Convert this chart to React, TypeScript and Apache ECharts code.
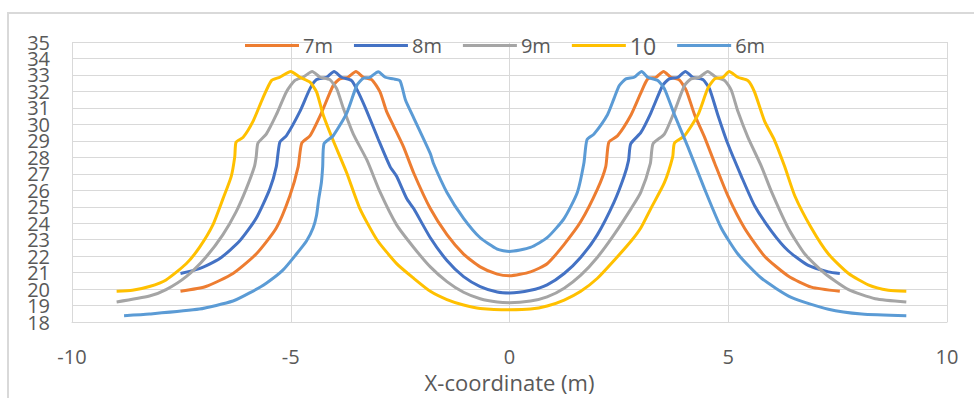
import React, { useEffect, useRef } from "react";
import * as echarts from "echarts";

type Pt = [number, number];

const legendNames = ["7m", "8m", "9m", "10", "6m"];
const seriesColors = ["#ED7D31", "#4472C4", "#A5A5A5", "#FFC000", "#5B9BD5"];
const xTicks = { min: -10, max: 10, interval: 5 };
const yTicks = { min: 18, max: 35, interval: 1 };

const s7m: Pt[] = [
  [-7.52, 19.87], [-6.94, 20.16], [-6.32, 20.95], [-5.79, 22.13], [-5.33, 23.71], [-5.02, 25.67],
  [-4.83, 27.44], [-4.75, 28.86], [-4.56, 29.31], [-4.3, 30.69], [-4.03, 32.36], [-3.88, 32.76],
  [-3.69, 32.86], [-3.51, 33.21], [-3.34, 32.86], [-3.15, 32.72], [-2.96, 31.97], [-2.81, 30.79],
  [-2.65, 29.9], [-2.42, 28.62], [-2.19, 27.05], [-1.81, 24.89], [-1.43, 23.31], [-1.05, 22.13],
  [-0.67, 21.35], [-0.28, 20.91], [0, 20.81], [0.48, 21.05], [0.86, 21.54], [1.25, 22.72],
  [1.63, 24.1], [2.01, 26.07], [2.2, 27.44], [2.27, 28.92], [2.47, 29.31], [2.78, 30.59],
  [3.0, 31.9], [3.16, 32.76], [3.35, 32.86], [3.52, 33.21], [3.69, 32.86], [3.88, 32.7],
  [4.04, 32.07], [4.23, 30.59], [4.46, 29.21], [4.69, 27.64], [4.99, 25.67], [5.37, 23.71],
  [5.83, 22.0], [6.37, 20.8], [6.9, 20.12], [7.55, 19.87],
];

const s8m: Pt[] = [
  [-7.52, 20.95], [-7.09, 21.25], [-6.63, 21.84], [-6.17, 22.92], [-5.79, 24.3], [-5.48, 26.07],
  [-5.33, 27.44], [-5.25, 28.92], [-5.1, 29.31], [-4.79, 30.79], [-4.56, 32.17], [-4.41, 32.72],
  [-4.18, 32.86], [-4.01, 33.21], [-3.84, 32.86], [-3.61, 32.66], [-3.46, 31.97], [-3.26, 30.79],
  [-3.0, 29.1], [-2.73, 27.44], [-2.58, 26.85], [-2.35, 25.5], [-2.19, 24.89], [-1.81, 23.12],
  [-1.43, 21.74], [-1.05, 20.76], [-0.67, 20.16], [-0.28, 19.83], [0, 19.77], [0.48, 19.93],
  [0.86, 20.26], [1.25, 20.95], [1.63, 21.94], [2.01, 23.31], [2.39, 25.28], [2.62, 26.85],
  [2.72, 27.8], [2.77, 28.82], [3.0, 29.5], [3.23, 30.69], [3.5, 32.36], [3.65, 32.76],
  [3.85, 32.86], [4.02, 33.21], [4.19, 32.86], [4.42, 32.72], [4.57, 32.17], [4.76, 30.59],
  [4.99, 28.82], [5.3, 26.85], [5.6, 25.08], [5.99, 23.51], [6.37, 22.33], [6.83, 21.44],
  [7.29, 21.05], [7.55, 20.95],
];

const s9m: Pt[] = [
  [-8.98, 19.22], [-8.23, 19.58], [-7.85, 19.97], [-7.39, 20.76], [-6.94, 21.94], [-6.55, 23.31],
  [-6.25, 24.69], [-6.02, 26.07], [-5.83, 27.44], [-5.79, 28.03], [-5.75, 28.86], [-5.56, 29.41],
  [-5.33, 30.59], [-5.1, 31.97], [-4.91, 32.66], [-4.72, 32.86], [-4.51, 33.21], [-4.33, 32.86],
  [-4.11, 32.72], [-3.95, 32.17], [-3.8, 30.99], [-3.57, 29.41], [-3.26, 27.84], [-2.96, 25.9],
  [-2.58, 23.9], [-2.19, 22.53], [-1.81, 21.35], [-1.43, 20.46], [-1.05, 19.81], [-0.67, 19.42],
  [-0.28, 19.22], [0, 19.18], [0.48, 19.28], [0.86, 19.53], [1.25, 20.06], [1.63, 20.85],
  [2.01, 21.94], [2.39, 23.31], [2.78, 24.89], [3.0, 25.87], [3.22, 27.64], [3.28, 28.82],
  [3.54, 29.41], [3.77, 30.79], [4.0, 32.36], [4.15, 32.76], [4.34, 32.86], [4.53, 33.21],
  [4.72, 32.86], [4.92, 32.66], [5.07, 32.07], [5.22, 30.79], [5.45, 29.21], [5.76, 27.44],
  [5.99, 25.9], [6.37, 23.71], [6.75, 22.13], [7.21, 20.95], [7.75, 19.97], [8.36, 19.42],
  [9.07, 19.22],
];

const s10: Pt[] = [
  [-8.98, 19.87], [-8.62, 19.93], [-8.23, 20.16], [-7.85, 20.56], [-7.39, 21.54], [-7.09, 22.52],
  [-6.78, 23.9], [-6.55, 25.48], [-6.36, 26.85], [-6.28, 28.03], [-6.25, 28.92], [-6.09, 29.21],
  [-5.86, 30.2], [-5.64, 31.58], [-5.44, 32.66], [-5.25, 32.86], [-5.0, 33.21], [-4.79, 32.86],
  [-4.56, 32.56], [-4.41, 31.97], [-4.26, 30.59], [-4.03, 29.02], [-3.72, 27.05], [-3.42, 24.89],
  [-3.03, 23.0], [-2.58, 21.55], [-2.19, 20.66], [-1.81, 19.87], [-1.43, 19.37], [-1.05, 19.04],
  [-0.67, 18.83], [0, 18.75], [0.48, 18.79], [0.86, 18.98], [1.25, 19.34], [1.63, 19.87],
  [2.01, 20.66], [2.39, 21.74], [2.78, 22.92], [3.0, 23.71], [3.23, 24.89], [3.54, 26.46],
  [3.73, 28.03], [3.77, 28.86], [4.0, 29.31], [4.31, 30.59], [4.53, 32.17], [4.69, 32.76],
  [4.88, 32.86], [5.02, 33.21], [5.22, 32.86], [5.45, 32.66], [5.6, 31.97], [5.83, 30.2],
  [6.06, 29.02], [6.29, 27.44], [6.52, 25.67], [6.9, 23.71], [7.29, 22.13], [7.75, 20.95],
  [8.2, 20.26], [8.66, 19.93], [9.07, 19.87],
];

const s6m: Pt[] = [
  [-8.81, 18.39], [-8.23, 18.49], [-7.09, 18.79], [-6.32, 19.28], [-5.94, 19.77], [-5.56, 20.36],
  [-5.18, 21.15], [-4.87, 22.13], [-4.64, 22.92], [-4.49, 23.71], [-4.41, 24.49], [-4.36, 25.48],
  [-4.3, 26.46], [-4.27, 27.44], [-4.24, 28.82], [-4.03, 29.31], [-3.72, 30.69], [-3.49, 32.36],
  [-3.34, 32.8], [-3.19, 32.86], [-3.0, 33.19], [-2.84, 32.86], [-2.65, 32.76], [-2.5, 32.64],
  [-2.38, 31.5], [-2.19, 30.4], [-1.81, 28.23], [-1.74, 27.64], [-1.43, 25.87], [-1.05, 24.3],
  [-0.67, 23.12], [-0.28, 22.43], [0, 22.29], [0.48, 22.53], [0.86, 23.12], [1.25, 24.3],
  [1.55, 25.87], [1.7, 27.64], [1.77, 29.06], [1.93, 29.41], [2.24, 30.59], [2.39, 31.58],
  [2.51, 32.36], [2.66, 32.76], [2.85, 32.86], [3.02, 33.21], [3.16, 32.86], [3.39, 32.66],
  [3.54, 32.17], [3.77, 30.59], [4.08, 28.62], [4.46, 26.07], [4.84, 23.71], [5.22, 22.13],
  [5.76, 20.66], [6.44, 19.5], [7.29, 18.78], [8.05, 18.49], [9.07, 18.39],
];

const seriesData: Pt[][] = [s7m, s8m, s9m, s10, s6m];

const FONT = "'Open Sans', 'Noto Sans', sans-serif";
const TEXT = "#595959";
const GRID = "#d9d9d9";

const yLabelBase = {
  color: TEXT,
  margin: 22,
  hideOverlap: false,
  fontFamily: FONT,
  fontSize: 20,
  lineHeight: 14,
};

export default function App() {
  const ref = useRef<HTMLDivElement>(null);

  useEffect(() => {
    if (!ref.current) return;
    const chart = echarts.init(ref.current, undefined, { renderer: "svg" });
    chart.setOption({
      animation: false,
      backgroundColor: "#ffffff",
      graphic: [
        {
          type: "rect",
          shape: { x: 8, y: 13, width: 1000, height: 500 },
          style: { fill: "none", stroke: "#d9d9d9", lineWidth: 2 },
          silent: true,
          z: -10,
        },
      ],
      legend: {
        left: 240,
        top: 29,
        icon: "rect",
        itemWidth: 54,
        itemHeight: 3,
        itemGap: 21,
        data: legendNames,
        formatter: (name: string) => (name === "10" ? "{big|10}" : name),
        textStyle: {
          fontFamily: FONT,
          fontSize: 20,
          color: TEXT,
          padding: [0, 0, 0, -1],
          rich: { big: { fontFamily: FONT, fontSize: 23, color: TEXT } },
        },
      },
      grid: { left: 72, right: 27, top: 42, bottom: 68, containLabel: false },
      xAxis: {
        type: "value",
        min: xTicks.min,
        max: xTicks.max,
        interval: xTicks.interval,
        name: "X-coordinate (m)",
        nameLocation: "middle",
        nameGap: 41,
        nameTextStyle: { fontFamily: FONT, fontSize: 22, color: TEXT },
        axisLine: { show: true, onZero: false, lineStyle: { color: GRID, width: 1 } },
        axisTick: { show: false },
        axisLabel: { fontFamily: FONT, fontSize: 20, color: TEXT, margin: 24, showMinLabel: true, showMaxLabel: true },
        splitLine: { show: true, lineStyle: { color: GRID, width: 1 } },
      },
      yAxis: [
        {
          type: "value",
          position: "left",
          min: yTicks.min,
          max: yTicks.max,
          interval: yTicks.interval,
          axisLine: { show: false, onZero: false },
          axisTick: { show: false },
          axisLabel: { ...yLabelBase, showMinLabel: false, showMaxLabel: false },
          splitLine: { show: true, lineStyle: { color: GRID, width: 1 } },
        },
        {
          type: "value",
          position: "left",
          offset: 0,
          min: yTicks.min,
          max: yTicks.max,
          interval: yTicks.interval,
          axisLine: { show: false, onZero: false },
          axisTick: { show: false },
          axisLabel: {
            ...yLabelBase,
            showMinLabel: true,
            showMaxLabel: true,
            formatter: (v: number) => (v === yTicks.min || v === yTicks.max ? String(v) : ""),
          },
          splitLine: { show: false },
        },
      ],
      series: legendNames.map((name, i) => ({
        name,
        type: "line",
        yAxisIndex: 0,
        data: seriesData[i],
        showSymbol: false,
        symbol: "none",
        smooth: 0.2,
        lineStyle: { color: seriesColors[i], width: 3 },
        itemStyle: { color: seriesColors[i] },
      })),
    });
    return () => chart.dispose();
  }, []);

  return (
    <div
      ref={ref}
      style={{ position: "fixed", left: 0, top: 0, width: 974, height: 398, background: "#fff" }}
    />
  );
}
